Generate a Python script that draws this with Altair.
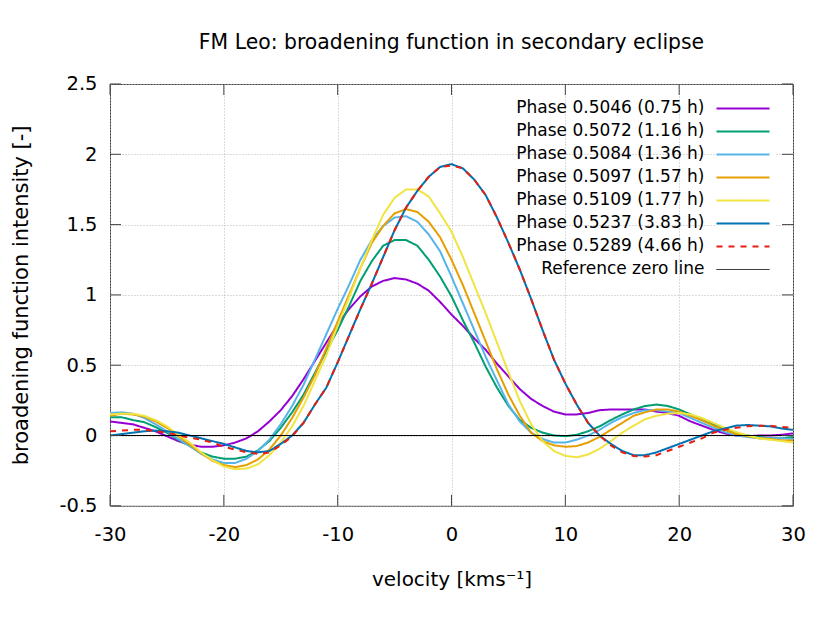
import altair as alt
import pandas as pd

velocity = list(range(-30, 31))

series_names = [
    "Phase 0.5046 (0.75 h)",
    "Phase 0.5072 (1.16 h)",
    "Phase 0.5084 (1.36 h)",
    "Phase 0.5097 (1.57 h)",
    "Phase 0.5109 (1.77 h)",
    "Phase 0.5237 (3.83 h)",
    "Phase 0.5289 (4.66 h)",
    "Reference zero line",
]
colors = ["#9400d3", "#009e73", "#56b4e9", "#e69f00", "#f0e442", "#0072b2", "#e51e10", "#000000"]

p5046 = [0.10, 0.09, 0.08, 0.055, 0.03, -0.005, -0.04, -0.065, -0.08, -0.08,
         -0.07, -0.05, -0.02, 0.03, 0.10, 0.18, 0.28, 0.40, 0.53, 0.66,
         0.79, 0.90, 0.99, 1.06, 1.10, 1.12, 1.11, 1.08, 1.03, 0.95,
         0.86,
         0.78, 0.69, 0.61, 0.51, 0.42, 0.33, 0.26, 0.21, 0.17, 0.15,
         0.15, 0.16, 0.18, 0.185, 0.185, 0.185, 0.185, 0.17, 0.16, 0.14,
         0.10, 0.07, 0.04, 0.015, 0.0, -0.005, 0.0, 0.0, 0.005, 0.015]
p5072 = [0.13, 0.13, 0.11, 0.095, 0.06, 0.02, -0.03, -0.075, -0.12, -0.15,
         -0.165, -0.165, -0.15, -0.105, -0.04, 0.055, 0.165, 0.29, 0.445, 0.60,
         0.75, 0.92, 1.10, 1.24, 1.35, 1.39, 1.39, 1.35, 1.25, 1.13,
         0.99,
         0.82, 0.66, 0.49, 0.34, 0.21, 0.11, 0.055, 0.02, 0.0, -0.005,
         0.005, 0.03, 0.065, 0.11, 0.15, 0.185, 0.21, 0.22, 0.21, 0.185,
         0.15, 0.11, 0.08, 0.04, 0.02, 0.0, -0.01, -0.02, -0.02, -0.01]
p5084 = [0.16, 0.165, 0.155, 0.125, 0.08, 0.03, -0.025, -0.075, -0.13, -0.17,
         -0.195, -0.195, -0.165, -0.11, -0.03, 0.08, 0.21, 0.36, 0.54, 0.72,
         0.90, 1.07, 1.25, 1.39, 1.49, 1.55, 1.56, 1.52, 1.43, 1.31,
         1.13,
         0.94, 0.75, 0.56, 0.39, 0.22, 0.10, 0.02, -0.025, -0.05, -0.05,
         -0.03, 0.0, 0.04, 0.09, 0.13, 0.16, 0.18, 0.18, 0.17, 0.16,
         0.125, 0.09, 0.055, 0.025, 0.0, -0.01, -0.02, -0.02, -0.02, -0.025]
p5097 = [0.14, 0.155, 0.15, 0.135, 0.10, 0.055, -0.005, -0.065, -0.125, -0.18,
         -0.21, -0.225, -0.21, -0.17, -0.10, 0.0, 0.125, 0.27, 0.43, 0.62,
         0.81, 1.0, 1.19, 1.37, 1.49, 1.58, 1.61, 1.59, 1.52, 1.41,
         1.25,
         1.07, 0.87, 0.67, 0.47, 0.29, 0.14, 0.02, -0.04, -0.07, -0.08,
         -0.075, -0.05, -0.01, 0.04, 0.09, 0.14, 0.165, 0.185, 0.185, 0.17,
         0.14, 0.11, 0.07, 0.04, 0.01, -0.005, -0.02, -0.025, -0.035, -0.035]
p5109 = [0.15, 0.155, 0.155, 0.14, 0.11, 0.065, 0.005, -0.05, -0.12, -0.175,
         -0.22, -0.24, -0.235, -0.205, -0.14, -0.05, 0.065, 0.21, 0.39, 0.57,
         0.78, 0.98, 1.19, 1.39, 1.57, 1.69, 1.75, 1.75, 1.70, 1.58,
         1.45,
         1.27, 1.07, 0.87, 0.66, 0.45, 0.245, 0.08, -0.04, -0.11, -0.145,
         -0.155, -0.135, -0.095, -0.04, 0.02, 0.07, 0.115, 0.14, 0.155, 0.16,
         0.15, 0.125, 0.09, 0.055, 0.025, 0.0, -0.02, -0.03, -0.04, -0.05]
p5237 = [0.0, 0.01, 0.02, 0.03, 0.035, 0.03, 0.02, 0.0, -0.02, -0.04,
         -0.06, -0.085, -0.11, -0.12, -0.11, -0.06, 0.0, 0.09, 0.22, 0.34,
         0.52, 0.71, 0.90, 1.08, 1.27, 1.46, 1.62, 1.74, 1.84, 1.91,
         1.93,
         1.90, 1.82, 1.71, 1.55, 1.37, 1.18, 0.97, 0.75, 0.54, 0.37,
         0.22, 0.09, 0.0, -0.06, -0.11, -0.14, -0.14, -0.12, -0.09, -0.06,
         -0.03, 0.0, 0.03, 0.05, 0.07, 0.075, 0.07, 0.065, 0.05, 0.04]
p5289 = [0.03, 0.035, 0.04, 0.04, 0.03, 0.02, 0.0, -0.015, -0.03, -0.05,
         -0.08, -0.10, -0.12, -0.13, -0.12, -0.07, -0.005, 0.09, 0.22, 0.34,
         0.52, 0.71, 0.90, 1.08, 1.27, 1.46, 1.62, 1.74, 1.84, 1.91,
         1.92,
         1.90, 1.82, 1.71, 1.55, 1.37, 1.18, 0.97, 0.75, 0.54, 0.37,
         0.22, 0.09, 0.0, -0.07, -0.12, -0.145, -0.15, -0.14, -0.11, -0.08,
         -0.05, -0.02, 0.02, 0.04, 0.055, 0.065, 0.07, 0.07, 0.06, 0.055]
zero_x = [-30, 30]
zero_y = [0.0, 0.0]

x_ticks = [-30, -20, -10, 0, 10, 20, 30]
y_ticks = [-0.5, 0, 0.5, 1, 1.5, 2, 2.5]

dashes = [[1, 0]] * 6 + [[6, 6]] + [[1, 0]]
widths = [2, 2, 2, 2, 2, 2, 2, 1]

rows = []
for name, vals in zip(series_names[:7], [p5046, p5072, p5084, p5097, p5109, p5237, p5289]):
    for v, b in zip(velocity, vals):
        rows.append({"v": v, "b": b, "s": name})
for v, b in zip(zero_x, zero_y):
    rows.append({"v": v, "b": b, "s": series_names[7]})
df = pd.DataFrame(rows)

W, H = 683, 421.8
FONT = "DejaVu Sans"
TICKC = "#404040"

x_axis = alt.Axis(values=x_ticks, title="velocity [kms\u207b\u00b9]", labelExpr="'' + datum.value",
                  labelPadding=20, titlePadding=25, grid=True, labelFlush=False)
y_axis = alt.Axis(values=y_ticks, title="broadening function intensity [-]", labelExpr="'' + datum.value",
                  labelPadding=13, titlePadding=27, grid=True, titleFontSize=21)
xs = alt.Scale(domain=[-30, 30], nice=False, zero=False)
ys = alt.Scale(domain=[-0.5, 2.5], nice=False, zero=False)

lines = alt.Chart(df).mark_line(clip=True).encode(
    x=alt.X("v:Q", scale=xs, axis=x_axis),
    y=alt.Y("b:Q", scale=ys, axis=y_axis),
    color=alt.Color("s:O", scale=alt.Scale(type="ordinal", domain=series_names, range=colors),
                    legend=alt.Legend(title=None)),
    strokeDash=alt.StrokeDash("s:O", scale=alt.Scale(type="ordinal", domain=series_names, range=dashes),
                              legend=alt.Legend(title=None)),
    strokeWidth=alt.StrokeWidth("s:O", scale=alt.Scale(type="ordinal", domain=series_names, range=widths),
                                legend=alt.Legend(title=None)),
)

xt = pd.DataFrame({"v": x_ticks})
yt = pd.DataFrame({"b": y_ticks})
tick_bottom = alt.Chart(xt).mark_rule(color=TICKC, strokeWidth=1).encode(
    x=alt.X("v:Q", scale=xs, axis=x_axis), y=alt.value(H), y2=alt.value(H - 11))
tick_top = alt.Chart(xt).mark_rule(color=TICKC, strokeWidth=1).encode(
    x=alt.X("v:Q", scale=xs, axis=x_axis), y=alt.value(0), y2=alt.value(11))
tick_left = alt.Chart(yt).mark_rule(color=TICKC, strokeWidth=1).encode(
    y=alt.Y("b:Q", scale=ys, axis=y_axis), x=alt.value(0), x2=alt.value(11))
tick_right = alt.Chart(yt).mark_rule(color=TICKC, strokeWidth=1).encode(
    y=alt.Y("b:Q", scale=ys, axis=y_axis), x=alt.value(W - 11), x2=alt.value(W))

chart = alt.layer(lines, tick_bottom, tick_top, tick_left, tick_right).properties(
    width=W, height=H,
    title=alt.Title("FM Leo: broadening function in secondary eclipse", anchor="middle",
                    font=FONT, fontSize=20.4, fontWeight="normal", color="black", offset=21),
    autosize=alt.AutoSizeParams(type="none"),
    padding={"left": 102, "top": 76, "right": 29, "bottom": 109},
).configure_view(
    stroke=TICKC, strokeWidth=1
).configure_axis(
    labelFont=FONT, labelFontSize=19.5, labelColor="black",
    titleFont=FONT, titleFontSize=20, titleFontWeight="normal", titleColor="black",
    tickSize=0, domain=False, gridColor="#b8b8b8", gridDash=[1, 2], gridWidth=1,
).configure_legend(
    orient="none", legendX=605, legendY=16, padding=0,
    symbolType="M-5.3,0H5.3", symbolSize=100, symbolOffset=19.5, rowPadding=5.0,
    labelAlign="right", labelOffset={"expr": "-47"}, labelFont=FONT, labelFontSize=17, labelColor="black",
    labelLimit=400, fillColor="white", strokeColor="white",
)

chart.save("out.html", embed_options={"renderer": "svg", "actions": False})
